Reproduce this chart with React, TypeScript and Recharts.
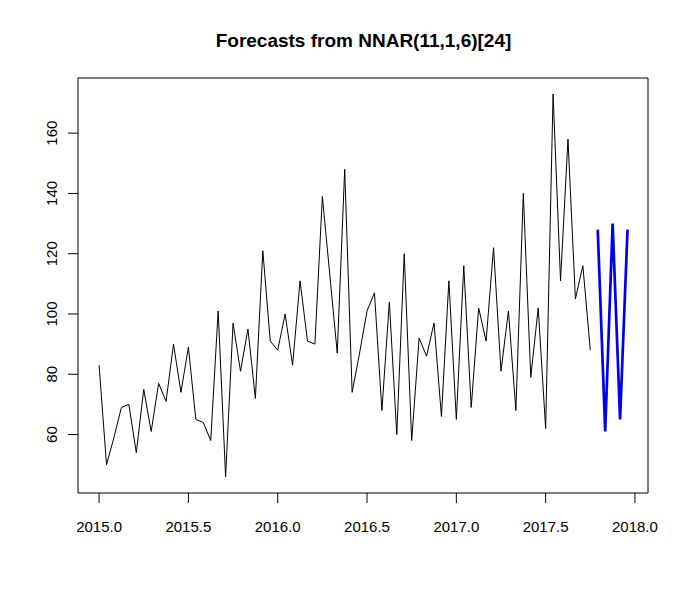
import React from 'react';
import { LineChart, Line, XAxis, YAxis, ReferenceArea } from 'recharts';

// series, monthly-ish ts with frequency 24 starting 2015.0
const start = 2015;
const freq = 24;
const actual = [
  83, 50, 59, 69, 70, 54, 75, 61, 77, 71, 90, 74, 89, 65, 64, 58, 101, 46, 97, 81,
  95, 72, 121, 91, 88, 100, 83, 111, 91, 90, 139, 113, 87, 148, 74, 87, 101, 107, 68, 104,
  60, 120, 58, 92, 86, 97, 66, 111, 65, 116, 69, 102, 91, 122, 81, 101, 68, 140, 79, 102,
  62, 173, 111, 158, 105, 116, 88,
];
const forecast = [128, 61, 130, 65, 128];

const xTicks = [2015, 2015.5, 2016, 2016.5, 2017, 2017.5, 2018];
const yTicks = [60, 80, 100, 120, 140, 160];

const xDomain: [number, number] = [2014.882, 2018.073];
const yDomain: [number, number] = [40.6, 178.3];

const rows = [
  ...actual.map((v, i) => ({ t: start + i / freq, actual: v, forecast: null as number | null })),
  ...forecast.map((v, i) => ({ t: start + (actual.length + i) / freq, actual: null as number | null, forecast: v })),
];

const font = '"Liberation Sans", Arial, sans-serif';

const XTick = (props: any) => {
  const { x, y, payload } = props;
  return (
    <text x={x} y={y + 27} textAnchor="middle" fontSize={15} fontFamily={font} fill="#000">
      {Number(payload.value).toFixed(1)}
    </text>
  );
};

const YTick = (props: any) => {
  const { x, y, payload } = props;
  const cx = x - 14;
  return (
    <text
      x={cx}
      y={y}
      textAnchor="middle"
      dominantBaseline="central"
      fontSize={15}
      fontFamily={font}
      fill="#000"
      transform={`rotate(-90 ${cx} ${y})`}
    >
      {payload.value}
    </text>
  );
};

export default function App() {
  return (
    <div style={{ position: 'absolute', left: 0, top: 0, width: 686, height: 590, background: '#fff' }}>
      <div
        style={{
          position: 'absolute',
          top: 31,
          left: 78,
          width: 571,
          textAlign: 'center',
          fontFamily: font,
          fontWeight: 'bold',
          fontSize: 19,
          lineHeight: '20px',
          color: '#000',
        }}
      >
        Forecasts from NNAR(11,1,6)[24]
      </div>
      <LineChart width={686} height={590} data={rows} margin={{ top: 78, right: 38, bottom: 0, left: 0 }}>
        <XAxis
          dataKey="t"
          type="number"
          domain={xDomain}
          ticks={xTicks}
          allowDataOverflow
          axisLine={false}
          tickLine={{ stroke: '#000' }}
          tickSize={10}
          height={97}
          tick={<XTick />}
          interval={0}
        />
        <YAxis
          type="number"
          domain={yDomain}
          ticks={yTicks}
          allowDataOverflow
          axisLine={false}
          tickLine={{ stroke: '#000' }}
          tickSize={10}
          width={78}
          tick={<YTick />}
          interval={0}
        />
        <ReferenceArea
          x1={xDomain[0]}
          x2={xDomain[1]}
          y1={yDomain[0]}
          y2={yDomain[1]}
          fill="none"
          fillOpacity={0}
          stroke="#000"
          strokeWidth={1}
          ifOverflow="visible"
        />
        <Line
          type="linear"
          dataKey="actual"
          stroke="#000"
          strokeWidth={1}
          dot={false}
          connectNulls={false}
          isAnimationActive={false}
        />
        <Line
          type="linear"
          dataKey="forecast"
          stroke="#0000ee"
          strokeWidth={2.7}
          dot={false}
          connectNulls={false}
          isAnimationActive={false}
        />
      </LineChart>
    </div>
  );
}
